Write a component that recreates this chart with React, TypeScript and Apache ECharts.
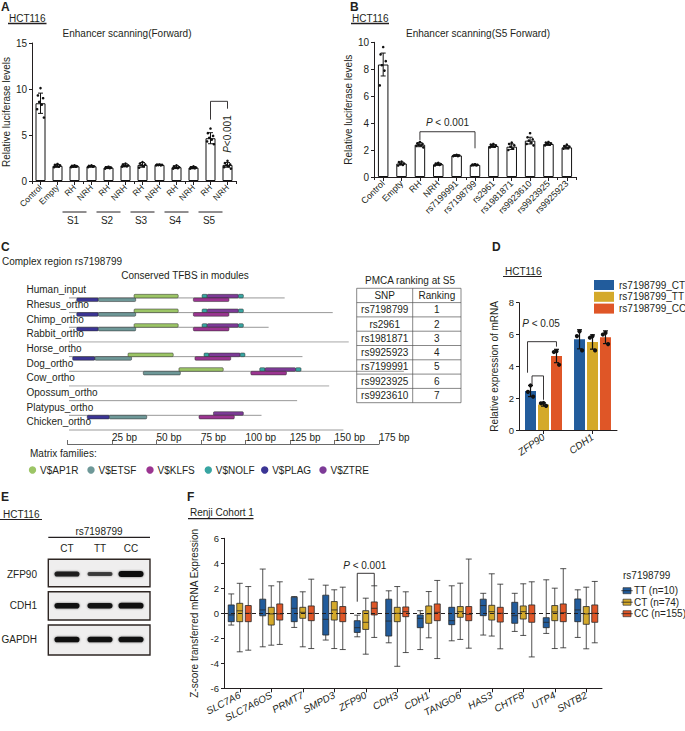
import React, { useEffect, useRef } from 'react';
import * as echarts from 'echarts';

const FONT = '"Liberation Sans", Arial, Helvetica, sans-serif';
const INK = '#231f20';

// ---------------- Panel A ----------------
const A_CATEGORIES = ['Control', 'Empty', 'RH', 'NRH', 'RH', 'NRH', 'RH', 'NRH', 'RH', 'NRH', 'RH', 'NRH'];
const A_GROUPS = ['S1', 'S2', 'S3', 'S4', 'S5'];
const A_MEANS = [8.45, 1.65, 1.6, 1.6, 1.45, 1.7, 1.75, 1.75, 1.5, 1.45, 4.65, 1.75];
const A_SD = [1.1, 0.15, 0.1, 0.08, 0.1, 0.15, 0.25, 0.06, 0.15, 0.12, 0.6, 0.25];
const A_POINTS = [
  [10.1, 9.3, 9.0, 8.6, 8.3, 7.8, 6.9],
  [1.85, 1.75, 1.7, 1.6, 1.55, 1.5],
  [1.7, 1.65, 1.6, 1.55, 1.55, 1.5],
  [1.7, 1.65, 1.6, 1.6, 1.55, 1.5],
  [1.55, 1.5, 1.45, 1.45, 1.4, 1.35],
  [1.9, 1.8, 1.7, 1.65, 1.6, 1.55],
  [2.05, 1.9, 1.8, 1.7, 1.6, 1.45],
  [1.8, 1.78, 1.75, 1.73, 1.7, 1.7],
  [1.7, 1.6, 1.5, 1.45, 1.4, 1.35],
  [1.6, 1.5, 1.45, 1.45, 1.4, 1.35],
  [5.7, 5.2, 4.9, 4.7, 4.5, 4.3, 4.0],
  [2.2, 1.95, 1.8, 1.7, 1.6, 1.5, 1.35],
];

// ---------------- Panel B ----------------
const B_CATEGORIES = ['Control', 'Empty', 'RH', 'NRH', 'rs7199991', 'rs7198799', 'rs2961', 'rs1981871', 'rs9923610', 'rs9923925', 'rs9925923'];
const B_MEANS = [8.35, 1.0, 2.4, 0.95, 1.6, 0.9, 2.3, 2.25, 2.7, 2.45, 2.2];
const B_SD = [0.85, 0.1, 0.15, 0.08, 0.05, 0.05, 0.1, 0.2, 0.25, 0.1, 0.12];
const B_POINTS = [
  [9.65, 9.1, 8.6, 8.3, 7.9, 6.8],
  [1.15, 1.1, 1.0, 0.95, 0.9, 0.85],
  [2.6, 2.5, 2.45, 2.4, 2.35, 2.3, 2.2],
  [1.05, 1.0, 0.95, 0.95, 0.9, 0.85],
  [1.65, 1.6, 1.6, 1.58, 1.55, 1.55],
  [0.95, 0.92, 0.9, 0.88, 0.86, 0.85],
  [2.45, 2.4, 2.35, 2.3, 2.25, 2.2],
  [2.55, 2.45, 2.35, 2.25, 2.1, 2.0],
  [3.25, 2.95, 2.8, 2.7, 2.55, 2.45, 2.35],
  [2.6, 2.55, 2.5, 2.45, 2.4, 2.35],
  [2.4, 2.3, 2.25, 2.2, 2.15, 2.1],
];

// ---------------- Panel C ----------------
const C_SPECIES = ['Human_input', 'Rhesus_ortho', 'Chimp_ortho', 'Rabbit_ortho', 'Horse_ortho', 'Dog_ortho', 'Cow_ortho', 'Opossum_ortho', 'Platypus_ortho', 'Chicken_ortho'];
const C_SEQ_LEN = [122, 149, 113, 158, 132, 189, 147, 129, 109, 155];
const C_NO_MODULE = [0, 0, 0, 1, 0, 0, 1, 0, 0, 1];
const C_FAMILIES = ['V$AP1R', 'V$ETSF', 'V$KLFS', 'V$NOLF', 'V$PLAG', 'V$ZTRE'];
const C_FAMILY_COLORS = ['#9cc566', '#6e9898', '#9b3591', '#38a5a2', '#3b3595', '#7d3b97'];
// [species, start bp, end bp, family, lane (0 above line, 1 below)]
const C_SITES = [
  [0, 5.2, 17.3, 4, 1], [0, 17.3, 38.3, 1, 1], [0, 37.4, 62.2, 0, 0], [0, 75.6, 78.5, 3, 0], [0, 78.5, 96, 5, 0], [0, 96, 98.8, 3, 0], [0, 70.7, 90.7, 2, 1],
  [1, 5.2, 17.3, 4, 1], [1, 17.3, 38.3, 1, 1], [1, 37.4, 62.2, 0, 0], [1, 75.6, 78.5, 3, 0], [1, 78.5, 96, 5, 0], [1, 96, 98.8, 3, 0], [1, 70.7, 90.7, 2, 1],
  [2, 5.2, 17.3, 4, 1], [2, 17.3, 38.3, 1, 1], [2, 37.4, 62.2, 0, 0], [2, 75.6, 78.5, 3, 0], [2, 78.5, 96, 5, 0], [2, 96, 98.8, 3, 0], [2, 70.7, 90.7, 2, 1],
  [4, 2.9, 15.4, 4, 1], [4, 15.4, 36, 1, 1], [4, 34, 59.4, 0, 0], [4, 76.7, 79.5, 3, 0], [4, 79.5, 97, 5, 0], [4, 97, 99.7, 3, 0], [4, 71.6, 91.7, 2, 1],
  [5, 42.6, 63.4, 1, 1], [5, 62.6, 87.5, 0, 0], [5, 108, 111, 3, 0], [5, 111, 128.2, 5, 0], [5, 128.2, 131.2, 3, 0], [5, 103, 123, 2, 1],
  [8, 11.1, 23.5, 4, 1], [8, 23.5, 44.5, 1, 1], [8, 82, 98.8, 5, 0], [8, 73.9, 93.7, 2, 1],
];
const C_TABLE_SNP = ['rs7198799', 'rs2961', 'rs1981871', 'rs9925923', 'rs7199991', 'rs9923925', 'rs9923610'];
const C_TABLE_RANK = ['1', '2', '3', '4', '5', '6', '7'];

// ---------------- Panel D ----------------
const D_GENES = ['ZFP90', 'CDH1'];
const D_GENOTYPES = ['rs7198799_CT', 'rs7198799_TT', 'rs7198799_CC'];
const D_CT_MEAN = [2.45, 5.7];
const D_TT_MEAN = [1.6, 5.53];
const D_CC_MEAN = [4.65, 5.83];
const D_CT_SD = [0.35, 0.6];
const D_TT_SD = [0.1, 0.45];
const D_CC_SD = [0.42, 0.4];
const D_CT_POINTS = [[2.8, 2.4, 2.1], [6.2, 5.9, 5.0]];
const D_TT_POINTS = [[1.7, 1.68, 1.52], [5.9, 5.8, 5.0]];
const D_CC_POINTS = [[4.95, 4.9, 4.1], [6.1, 6.0, 5.4]];

// ---------------- Panel E ----------------
const E_LANES = ['CT', 'TT', 'CC'];
const E_PROTEINS = ['ZFP90', 'CDH1', 'GAPDH'];
const E_BAND_INTENSITY = [[0.82, 0.55, 1.0], [0.95, 0.93, 0.97], [0.97, 0.96, 0.96]];

// ---------------- Panel F ----------------
const F_GENES = ['SLC7A6', 'SLC7A6OS', 'PRMT7', 'SMPD3', 'ZFP90', 'CDH3', 'CDH1', 'TANGO6', 'HAS3', 'CHTF8', 'UTP4', 'SNTB2'];
const F_GROUPS = ['TT (n=10)', 'CT (n=74)', 'CC (n=155)'];
// [min, Q1, median, Q3, max]
const F_TT = [
  [-0.94, -0.67, -0.13, 0.67, 1.55], [-2.68, -0.2, 0.27, 1.13, 3.54], [-1.13, -0.67, 0.4, 1.29, 1.34], [-2.14, -1.74, -0.48, 1.45, 2.25],
  [-1.88, -1.53, -1.15, -0.59, -0.15], [-2.36, -1.82, -0.62, 1.13, 1.8], [-2.9, -1.15, -0.4, -0.13, 0.21], [-2.2, -0.91, -0.59, 0.48, 2.2],
  [-1.74, -0.19, 0.62, 1.13, 1.6], [-1.45, -0.8, -0.19, 0.88, 1.6], [-1.61, -1.15, -0.72, -0.35, 2.68], [-1.93, -0.67, 0.27, 1.15, 1.88],
];
const F_CT = [
  [-3.08, -0.67, 0.2, 0.8, 2.4], [-2.55, -0.94, -0.05, 0.48, 2.2], [-2.68, -0.4, 0.08, 0.48, 1.72], [-2.82, -0.54, 0.27, 0.94, 1.88],
  [-3.27, -1.29, -0.72, 0.21, 1.21], [-4.24, -0.67, 0, 0.48, 2.14], [-1.96, -0.8, -0.05, 0.59, 1.74], [-2.09, -0.32, 0.13, 0.54, 2.41],
  [-1.82, -0.54, 0.13, 0.64, 3.16], [-1.77, -0.46, 0.13, 0.59, 2.36], [-2.82, -0.59, 0.11, 0.62, 2.01], [-2.84, -0.88, -0.05, 0.54, 2.09],
];
const F_CC = [
  [-2.95, -0.67, 0, 0.62, 2.14], [-2.49, -0.54, -0.05, 0.75, 2.52], [-2.82, -0.59, 0, 0.59, 2.73], [-2.9, -0.67, 0, 0.54, 2.09],
  [-1.93, -0.13, 0.4, 0.91, 2.2], [-3.14, -0.27, 0.13, 0.51, 1.72], [-3.62, -0.59, 0.08, 0.75, 2.63], [-2.79, -0.59, -0.08, 0.54, 4.34],
  [-2.84, -0.7, 0, 0.48, 2.33], [-3.49, -0.72, -0.03, 0.67, 2.52], [-2.76, -0.67, 0.05, 0.75, 3.57], [-2.36, -0.72, 0, 0.67, 2.55],
];

const GENO_COLORS = ['#225c9c', '#d4a92a', '#df5627'];
const JITTER = [0, -2.6, 2.6, -1.3, 1.3, -3.4, 3.4];
const D_JITTER = [0, -2.6, 2.6];
const D_STEP = 12.98;

const axisLine = { show: true, onZero: false, lineStyle: { color: INK, width: 1 } };
const axisTick = { show: true, length: 4, lineStyle: { color: INK, width: 1 } };
const label = (size: number, extra: any = {}) => ({ color: INK, fontSize: size, fontFamily: FONT, ...extra });

function errRender(offsetFn: (api: any) => number, cap: number, width: number) {
  return (params: any, api: any) => {
    const c = api.value(0), m = api.value(1), sd = api.value(2);
    const top = api.coord([c, m + sd]);
    const bot = api.coord([c, m - sd]);
    const x = top[0] + offsetFn(api);
    const st = { stroke: '#111', lineWidth: width };
    return {
      type: 'group',
      children: [
        { type: 'line', shape: { x1: x, y1: top[1], x2: x, y2: bot[1] }, style: st },
        { type: 'line', shape: { x1: x - cap, y1: top[1], x2: x + cap, y2: top[1] }, style: st },
        { type: 'line', shape: { x1: x - cap, y1: bot[1], x2: x + cap, y2: bot[1] }, style: st },
      ],
    };
  };
}

function buildOption(): any {
  const aDots: number[][] = [];
  A_POINTS.forEach((pts, i) => pts.forEach((v, k) => aDots.push([i, v, k])));
  const bDots: number[][] = [];
  B_POINTS.forEach((pts, i) => pts.forEach((v, k) => bDots.push([i, v, k])));
  const dMeans = [D_CT_MEAN, D_TT_MEAN, D_CC_MEAN];
  const dSd = [D_CT_SD, D_TT_SD, D_CC_SD];
  const dPts = [D_CT_POINTS, D_TT_POINTS, D_CC_POINTS];
  const dErr: number[][] = [];
  const dDots: number[][] = [];
  dMeans.forEach((arr, s) => arr.forEach((m, c) => dErr.push([c, m, dSd[s][c], s])));
  dPts.forEach((arr, s) => arr.forEach((pts, c) => pts.forEach((v, k) => dDots.push([c, v, s, k]))));

  const dotRender = (r: number) => (params: any, api: any) => {
    const p = api.coord([api.value(0), api.value(1)]);
    const k = api.value(2);
    return { type: 'circle', shape: { cx: p[0] + JITTER[k % JITTER.length], cy: p[1], r }, style: { fill: '#111' } };
  };

  return {
    animation: false,
    backgroundColor: '#fff',
    textStyle: { fontFamily: FONT },
    grid: [
      { left: 32, top: 43, width: 204, height: 138 },
      { left: 374, top: 42.3, width: 202, height: 134.7 },
      { left: 67.5, top: 282.6, width: 311.5, height: 161.4 },
      { left: 519, top: 302.7, width: 98, height: 127.3 },
      { left: 224, top: 538.3, width: 378, height: 150 },
    ],
    xAxis: [
      { gridIndex: 0, type: 'category', position: 'bottom', data: A_CATEGORIES, axisLine, axisTick: { ...axisTick, alignWithLabel: true },
        axisLabel: label(8.5, { rotate: 45, interval: 0, margin: 5 }) },
      { gridIndex: 0, type: 'category', position: 'bottom', data: A_CATEGORIES, axisLine: { show: false }, axisTick: { ...axisTick, length: 3 }, axisLabel: { show: false } },
      { gridIndex: 1, type: 'category', position: 'bottom', data: B_CATEGORIES, axisLine, axisTick: { ...axisTick, alignWithLabel: true },
        axisLabel: label(9, { rotate: 45, interval: 0, margin: 5 }) },
      { gridIndex: 1, type: 'category', position: 'bottom', data: B_CATEGORIES, axisLine: { show: false }, axisTick: { ...axisTick, length: 3 }, axisLabel: { show: false } },
      { gridIndex: 2, type: 'value', min: 0, max: 175, interval: 25, axisLine: { show: true, onZero: false, lineStyle: { color: '#444', width: 0.8 } },
        axisTick: { show: true, inside: true, length: 4, lineStyle: { color: '#444', width: 0.8 } }, splitLine: { show: false },
        axisLabel: label(10, { inside: true, margin: 2, align: 'left', formatter: (v: number) => (v === 0 ? '' : `${v} bp`) }) },
      { gridIndex: 3, type: 'category', data: D_GENES, axisLine, axisTick: { ...axisTick, alignWithLabel: true },
        axisLabel: label(10, { rotate: 35, interval: 0, margin: 6, fontStyle: 'italic' }) },
      { gridIndex: 4, type: 'category', data: F_GENES, axisLine, axisTick: { ...axisTick, alignWithLabel: true },
        axisLabel: label(10, { rotate: 28, interval: 0, margin: 6, fontStyle: 'italic' }) },
    ],
    yAxis: [
      { gridIndex: 0, type: 'value', min: 0, max: 15, interval: 5, axisLine, axisTick: { ...axisTick, length: 3 }, splitLine: { show: false },
        axisLabel: label(10, { margin: 5 }), name: 'Relative luciferase levels', nameLocation: 'middle', nameGap: 21,
        nameTextStyle: label(10) },
      { gridIndex: 1, type: 'value', min: 0, max: 10, interval: 2, axisLine, axisTick: { ...axisTick, length: 3 }, splitLine: { show: false },
        axisLabel: label(10, { margin: 5 }), name: 'Relative luciferase levels', nameLocation: 'middle', nameGap: 16,
        nameTextStyle: label(10) },
      { gridIndex: 2, type: 'category', inverse: true, data: [...C_SPECIES, ''], axisLine: { show: false }, axisTick: { show: false },
        axisLabel: label(10, { align: 'left', margin: 41, interval: 0 }) },
      { gridIndex: 3, type: 'value', min: 0, max: 8, interval: 2, axisLine, axisTick: { ...axisTick, length: 3 }, splitLine: { show: false },
        axisLabel: label(9.5, { margin: 5 }), name: 'Relative expression of mRNA', nameLocation: 'middle', nameGap: 20,
        nameTextStyle: label(10) },
      { gridIndex: 4, type: 'value', min: -6, max: 6, interval: 2, axisLine, axisTick: { ...axisTick, length: 3 }, splitLine: { show: false },
        axisLabel: label(9.5, { margin: 5 }), name: 'Z-score transferred mRNA Expression', nameLocation: 'middle', nameGap: 22,
        nameTextStyle: label(10) },
    ],
    series: [
      // A
      { type: 'bar', xAxisIndex: 0, yAxisIndex: 0, data: A_MEANS, barWidth: 10, z: 2,
        itemStyle: { color: '#fff', borderColor: '#111', borderWidth: 1 } },
      { type: 'custom', xAxisIndex: 0, yAxisIndex: 0, z: 3, data: A_MEANS.map((m, i) => [i, m, A_SD[i]]),
        renderItem: errRender(() => 0, 2.5, 1) },
      { type: 'custom', xAxisIndex: 0, yAxisIndex: 0, z: 4, data: aDots, renderItem: dotRender(1.3) },
      // B
      { type: 'bar', xAxisIndex: 2, yAxisIndex: 1, data: B_MEANS, barWidth: 10.5, z: 2,
        itemStyle: { color: '#fff', borderColor: '#111', borderWidth: 1 } },
      { type: 'custom', xAxisIndex: 2, yAxisIndex: 1, z: 3, data: B_MEANS.map((m, i) => [i, m, B_SD[i]]),
        renderItem: errRender(() => 0, 2.5, 1) },
      { type: 'custom', xAxisIndex: 2, yAxisIndex: 1, z: 4, data: bDots, renderItem: dotRender(1.3) },
      // C species lines
      { type: 'custom', xAxisIndex: 4, yAxisIndex: 2, z: 2, encode: { x: 1, y: 0 },
        data: C_SPECIES.map((_, i) => [i, C_SEQ_LEN[i], C_NO_MODULE[i]]),
        renderItem: (params: any, api: any) => {
          const i = api.value(0);
          const p0 = api.coord([0, i]);
          const p1 = api.coord([api.value(1), i]);
          const y = p0[1] + 8;
          const light = api.value(2) === 1;
          return { type: 'line', shape: { x1: p0[0] + 1.5, y1: y, x2: p1[0], y2: y },
            style: { stroke: light ? '#cdcdcd' : '#8c8c8c', lineWidth: light ? 1.8 : 0.9 } };
        } },
      // C binding sites
      { type: 'custom', xAxisIndex: 4, yAxisIndex: 2, z: 3, encode: { x: [1, 2], y: 0 }, data: C_SITES,
        renderItem: (params: any, api: any) => {
          const sp = api.value(0);
          const a = api.coord([api.value(1), sp]);
          const b = api.coord([api.value(2), sp]);
          const yLine = a[1] + 8;
          const h = 3.6;
          const y = api.value(4) === 0 ? yLine - h : yLine;
          return { type: 'rect', shape: { x: a[0], y, width: b[0] - a[0], height: h, r: 1 },
            style: { fill: C_FAMILY_COLORS[api.value(3)], stroke: '#2a2a2a', lineWidth: 0.5 } };
        } },
      // D bars
      ...D_GENOTYPES.map((name, s) => ({
        type: 'bar', name, xAxisIndex: 5, yAxisIndex: 3, data: dMeans[s], barWidth: 11, barGap: '18%', z: 2,
        itemStyle: { color: GENO_COLORS[s] },
      })),
      { type: 'custom', xAxisIndex: 5, yAxisIndex: 3, z: 3, data: dErr,
        renderItem: errRender((api: any) => (api.value(3) - 1) * D_STEP, 2.5, 1.2) },
      { type: 'custom', xAxisIndex: 5, yAxisIndex: 3, z: 4, data: dDots,
        renderItem: (params: any, api: any) => {
          const p = api.coord([api.value(0), api.value(1)]);
          const s = api.value(2), k = api.value(3);
          return { type: 'circle', shape: { cx: p[0] + (s - 1) * D_STEP + D_JITTER[k % 3], cy: p[1], r: 2.1 }, style: { fill: '#111' } };
        } },
      // F zero line
      { type: 'line', xAxisIndex: 6, yAxisIndex: 4, data: [], z: 1,
        markLine: { silent: true, symbol: ['none', 'none'], label: { show: false }, animation: false,
          lineStyle: { type: [4, 3], color: INK, width: 1 }, data: [{ yAxis: 0 }] } },
      // F boxplots
      ...[F_TT, F_CT, F_CC].map((d, s) => ({
        type: 'boxplot', name: F_GROUPS[s], xAxisIndex: 6, yAxisIndex: 4, data: d, z: 2, boxWidth: [5, 6],
        itemStyle: { color: GENO_COLORS[s], borderColor: '#262626', borderWidth: 0.8 },
      })),
    ],
  };
}

function buildGraphics(chart: any): any[] {
  const g: any[] = [];
  const txt = (x: number, y: number, text: string, o: any = {}) =>
    g.push({ type: 'text', x, y, rotation: o.rot || 0, silent: true, z: 20,
      style: { text, fill: o.color || INK, fontSize: o.size || 10, fontFamily: FONT, fontWeight: o.weight || 'normal',
        fontStyle: o.italic ? 'italic' : 'normal', align: o.align || 'left', verticalAlign: o.va || 'middle' } });
  const pTxt = (x: number, y: number, rest: string, rot = 0) =>
    g.push({ type: 'text', x, y, rotation: rot, silent: true, z: 20,
      style: { text: `{i|P}{n|${rest}}`, align: 'center', verticalAlign: 'middle',
        rich: { i: { fontStyle: 'italic', fontSize: 10, fontFamily: FONT, fill: INK }, n: { fontSize: 10, fontFamily: FONT, fill: INK } } } });
  const line = (x1: number, y1: number, x2: number, y2: number, o: any = {}) =>
    g.push({ type: 'line', silent: true, z: 20, shape: { x1, y1, x2, y2 }, style: { stroke: o.color || INK, lineWidth: o.w || 1 } });
  const rect = (x: number, y: number, width: number, height: number, style: any, r = 0) =>
    g.push({ type: 'rect', silent: true, z: 20, shape: { x, y, width, height, r }, style });
  const circle = (cx: number, cy: number, r: number, fill: string) =>
    g.push({ type: 'circle', silent: true, z: 20, shape: { cx, cy, r }, style: { fill } });
  const bracket = (xl: number, xr: number, yTop: number, yl: number, yr: number) => {
    line(xl, yTop, xr, yTop, { w: 0.9 });
    line(xl, yTop, xl, yl, { w: 0.9 });
    line(xr, yTop, xr, yr, { w: 0.9 });
  };

  const pA = (x: number, y: number) => chart.convertToPixel({ xAxisIndex: 0, yAxisIndex: 0 }, [x, y]);
  const pB = (x: number, y: number) => chart.convertToPixel({ xAxisIndex: 2, yAxisIndex: 1 }, [x, y]);
  const pD = (x: number, y: number) => chart.convertToPixel({ xAxisIndex: 5, yAxisIndex: 3 }, [x, y]);
  const pF = (x: number, y: number) => chart.convertToPixel({ xAxisIndex: 6, yAxisIndex: 4 }, [x, y]);

  // ---- A ----
  txt(1, 1, 'A', { weight: 'bold', size: 12, va: 'top' });
  txt(9, 18.5, 'HCT116');
  line(8, 23.5, 46.5, 23.5, { w: 1.4 });
  txt(127, 33, 'Enhancer scanning(Forward)', { align: 'center' });
  A_GROUPS.forEach((name, k) => {
    const i = 2 + 2 * k;
    const a = pA(i, 0), b = pA(i + 1, 0);
    line(a[0] - 12, a[1] + 31, b[0] - 5, a[1] + 31);
    txt(a[0] - 1.5, a[1] + 39, name, { align: 'center' });
  });
  {
    const l = pA(10, 8.66), r = pA(11, 8.66);
    bracket(l[0], r[0], l[1], pA(10, 6.67)[1], pA(11, 7.86)[1]);
    const t = pA(11, 5.1);
    pTxt(t[0], t[1], '<0.001', Math.PI / 2);
  }

  // ---- B ----
  txt(350, 1, 'B', { weight: 'bold', size: 12, va: 'top' });
  txt(352, 18.5, 'HCT116');
  line(351, 23.5, 389, 23.5, { w: 1.4 });
  txt(478, 33, 'Enhancer scanning(S5 Forward)', { align: 'center' });
  {
    const l = pB(2, 3.36), r = pB(5, 3.36);
    bracket(l[0], r[0], l[1], pB(2, 2.75)[1], pB(5, 2.13)[1]);
    const t = pB(3.5, 4.08);
    pTxt((l[0] + r[0]) / 2, t[1], ' < 0.001');
  }

  // ---- C ----
  txt(1, 247, 'C', { weight: 'bold', size: 12 });
  txt(2, 261, 'Complex region rs7198799');
  txt(185, 275, 'Conserved TFBS in modules', { align: 'center' });
  txt(30, 453, 'Matrix families:');
  const legX = [32.5, 91, 150, 208.3, 264.7, 323];
  C_FAMILIES.forEach((f, k) => {
    circle(legX[k], 470, 3.7, C_FAMILY_COLORS[k]);
    txt(legX[k] + 7.5, 470, f);
  });
  // PMCA table
  txt(410, 280.7, 'PMCA ranking at S5', { align: 'center' });
  const tx0 = 356.7, tx1 = 412.7, tx2 = 461, ty0 = 288.3, rh = 14.3;
  const rows = [['SNP', 'Ranking'], ...C_TABLE_SNP.map((s, i) => [s, C_TABLE_RANK[i]])];
  for (let r = 0; r <= rows.length; r++) line(tx0, ty0 + r * rh, tx2, ty0 + r * rh, { w: 0.7, color: '#555' });
  [tx0, tx1, tx2].forEach((x) => line(x, ty0, x, ty0 + rows.length * rh, { w: 0.7, color: '#555' }));
  rows.forEach((row, r) => {
    const cy = ty0 + r * rh + rh / 2;
    txt((tx0 + tx1) / 2, cy, row[0], { align: 'center' });
    txt((tx1 + tx2) / 2, cy, row[1], { align: 'center' });
  });

  // ---- D ----
  txt(492, 247, 'D', { weight: 'bold', size: 12 });
  txt(505, 271, 'HCT116');
  line(503, 276.5, 542, 276.5, { w: 1.2 });
  D_GENOTYPES.forEach((name, s) => {
    const cy = 285 + s * 11.8;
    rect(594, cy - 5, 20, 10, { fill: GENO_COLORS[s] });
    txt(619, cy, name);
  });
  {
    const c = pD(0, 0)[0];
    const xCT = c - D_STEP, xTT = c, xCC = c + D_STEP;
    const y1 = pD(0, 5.55)[1];
    bracket(xCT - 3, xCC, y1, pD(0, 3.6)[1], pD(0, 5.24)[1]);
    const y2 = pD(0, 3.4)[1];
    bracket(xCT + 1.5, xTT, y2, pD(0, 2.85)[1], pD(0, 1.9)[1]);
    pTxt(c - 2.5, pD(0, 6.67)[1], ' < 0.05');
  }

  // ---- E ----
  txt(1, 497, 'E', { weight: 'bold', size: 12 });
  txt(3, 514, 'HCT116');
  line(0, 519.5, 42, 519.5, { w: 1.2 });
  txt(99, 531, 'rs7198799', { align: 'center' });
  line(48.3, 537.3, 150, 537.3, { w: 1.2 });
  const laneX = [67, 100, 131];
  E_LANES.forEach((l, k) => txt(laneX[k], 548.5, l, { align: 'center' }));
  const boxTop = [559.3, 591.7, 625];
  const boxH = [27.4, 28.3, 30];
  const bandY = [574, 605.7, 639.5];
  E_PROTEINS.forEach((p, r) => {
    rect(48.3, boxTop[r], 101.7, boxH[r], { fill: '#efeeee', stroke: '#2e2623', lineWidth: 1.4 });
    txt(37, bandY[r], p, { align: 'right' });
    E_LANES.forEach((_, k) => {
      const it = E_BAND_INTENSITY[r][k];
      const h = 1.8 + 4 * it;
      rect(laneX[k] - 12.5, bandY[r] - h / 2, 25, h,
        { fill: `rgba(12,12,12,${(0.35 + 0.65 * it).toFixed(2)})`, shadowBlur: 2.5, shadowColor: 'rgba(0,0,0,0.55)' }, h / 2);
    });
  });

  // ---- F ----
  txt(187, 497, 'F', { weight: 'bold', size: 12 });
  txt(190, 512, 'Renji Cohort 1');
  line(188, 518.7, 253.5, 518.7, { w: 1.2 });
  {
    const c = pF(4, 0)[0];
    const yTop = pF(4, 3.2)[1];
    bracket(c - 8.5, c + 8.5, yTop, pF(4, 0.93)[1], pF(4, 2.2)[1]);
    pTxt(c - 1, pF(4, 3.8)[1], ' < 0.001');
  }
  txt(623, 575.7, 'rs7198799');
  F_GROUPS.forEach((name, s) => {
    const cy = 590.7 + s * 11.5;
    rect(623, cy - 3, 8, 6, { fill: GENO_COLORS[s], stroke: '#333', lineWidth: 0.7 });
    line(621.3, cy, 632.7, cy, { w: 0.8, color: '#222' });
    txt(634, cy, name);
  });
  return g;
}

export default function App() {
  const ref = useRef<HTMLDivElement>(null);
  useEffect(() => {
    if (!ref.current) return;
    const chart = echarts.init(ref.current, null, { renderer: 'svg' });
    chart.setOption(buildOption());
    chart.setOption({ graphic: buildGraphics(chart) });
    return () => chart.dispose();
  }, []);
  return <div ref={ref} style={{ position: 'absolute', left: 0, top: 0, width: 685, height: 731, background: '#fff' }} />;
}
